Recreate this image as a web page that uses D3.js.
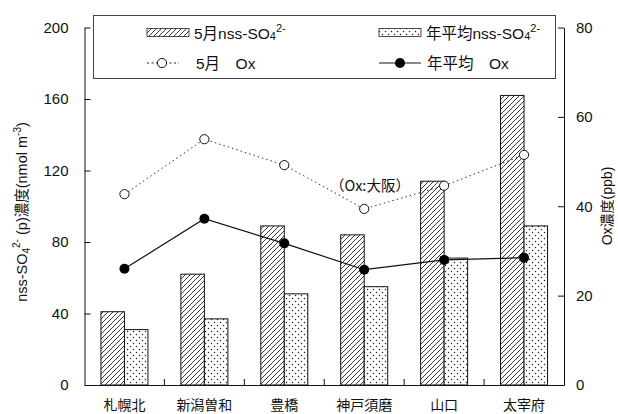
<!DOCTYPE html>
<html>
<head>
<meta charset="utf-8">
<script src="https://cdn.jsdelivr.net/npm/d3@7"></script>
<style>
  html, body { margin: 0; padding: 0; background: #fff; }
  svg { display: block; }
  text { font-family: "Liberation Sans", Arial, "Noto Sans CJK JP", sans-serif; fill: #111; }
</style>
</head>
<body>
<svg id="chart" width="618" height="414"></svg>
<script>
// Sites
const categories = ["札幌北", "新潟曽和", "豊橋", "神戸須磨", "山口", "太宰府"];
// nss-SO4 2- concentration (nmol m-3), left axis
const so4May = [41, 62, 89, 84, 114, 162];
const so4Annual = [31, 37, 51, 55, 71, 89];
// Ox concentration (ppb), right axis
const oxMay = [42.7, 55.0, 49.2, 39.4, 44.6, 51.5];
const oxAnnual = [26.0, 37.2, 31.7, 25.8, 28.0, 28.5];
// Axis ticks
const leftTicks = [0, 40, 80, 120, 160, 200];
const rightTicks = [0, 20, 40, 60, 80];

const svg = d3.select("#chart");
const plotLeft = 84.5, plotRight = 564, plotTop = 27.5, plotBottom = 385;

// Patterns for the bars
const defs = svg.append("defs");
const hatch = defs.append("pattern").attr("id", "hatch")
  .attr("patternUnits", "userSpaceOnUse").attr("width", 5).attr("height", 5);
hatch.append("path")
  .attr("d", "M0,5 L5,0 M-1,1 L1,-1 M4,6 L6,4")
  .attr("stroke", "#222").attr("stroke-width", 0.9);
const dots = defs.append("pattern").attr("id", "dots")
  .attr("patternUnits", "userSpaceOnUse").attr("width", 6).attr("height", 6);
dots.append("rect").attr("width", 6).attr("height", 6).attr("fill", "#fff");
dots.append("circle").attr("cx", 1.5).attr("cy", 1.5).attr("r", 0.75).attr("fill", "#222");
dots.append("circle").attr("cx", 4.5).attr("cy", 4.5).attr("r", 0.75).attr("fill", "#222");

// Scales
const x = d3.scaleBand().domain(categories).range([plotLeft, plotRight]).padding(0);
const x1 = d3.scaleBand().domain(["may", "annual"]).range([0, x.bandwidth()])
  .paddingInner(0).paddingOuter(0.7);
const yL = d3.scaleLinear().domain([0, 200]).range([plotBottom, plotTop]);
const yR = d3.scaleLinear().domain([0, 80]).range([plotBottom, plotTop]);

// Bars
const barSeries = [
  { key: "may", values: so4May, fill: "url(#hatch)" },
  { key: "annual", values: so4Annual, fill: "url(#dots)" }
];
barSeries.forEach(s => {
  svg.append("g").selectAll("rect").data(s.values).join("rect")
    .attr("x", (d, i) => x(categories[i]) + x1(s.key))
    .attr("y", d => yL(d))
    .attr("width", x1.bandwidth())
    .attr("height", d => yL(0) - yL(d))
    .attr("fill", s.fill)
    .attr("stroke", "#111").attr("stroke-width", 1);
});

// Axes
const axisFont = g => g.selectAll("text")
  .style("font-size", "15px").style("font-family", "'Liberation Sans', Arial, sans-serif").attr("fill", "#111");

const gL = svg.append("g").attr("transform", `translate(${plotLeft},0)`)
  .call(d3.axisLeft(yL).tickValues(leftTicks).tickSizeInner(-6).tickSizeOuter(0).tickPadding(16))
  .call(axisFont);
gL.selectAll("path, line").attr("stroke", "#111");

const gR = svg.append("g").attr("transform", `translate(${plotRight},0)`)
  .call(d3.axisRight(yR).tickValues(rightTicks).tickSizeInner(-6).tickSizeOuter(0).tickPadding(12))
  .call(axisFont);
gR.selectAll("path, line").attr("stroke", "#111");

const gB = svg.append("g").attr("transform", `translate(0,${plotBottom})`)
  .call(d3.axisBottom(x).tickSize(0).tickPadding(15));
gB.select(".domain").attr("stroke", "#111");
gB.selectAll("text").style("font-size", "14px")
  .style("font-family", "'Noto Sans CJK JP', sans-serif").attr("fill", "#111");
// Category boundary ticks pointing into the plot
gB.append("g").selectAll("line").data(categories.slice(1)).join("line")
  .attr("x1", d => x(d)).attr("x2", d => x(d))
  .attr("y1", 0).attr("y2", -6).attr("stroke", "#111");

// Ox lines
const lineGen = vals => d3.line()
  .x((d, i) => x(categories[i]) + x.bandwidth() / 2)
  .y(d => yR(d))(vals);

svg.append("path").attr("d", lineGen(oxMay))
  .attr("fill", "none").attr("stroke", "#333").attr("stroke-width", 1)
  .attr("stroke-dasharray", "1.5,3");
svg.append("g").selectAll("circle").data(oxMay).join("circle")
  .attr("cx", (d, i) => x(categories[i]) + x.bandwidth() / 2)
  .attr("cy", d => yR(d)).attr("r", 4.6)
  .attr("fill", "#fff").attr("stroke", "#111").attr("stroke-width", 1);

svg.append("path").attr("d", lineGen(oxAnnual))
  .attr("fill", "none").attr("stroke", "#111").attr("stroke-width", 1.2);
svg.append("g").selectAll("circle").data(oxAnnual).join("circle")
  .attr("cx", (d, i) => x(categories[i]) + x.bandwidth() / 2)
  .attr("cy", d => yR(d)).attr("r", 5)
  .attr("fill", "#000");

// Note on the Ox reference site
svg.append("text").attr("x", 370).attr("y", 191)
  .attr("text-anchor", "middle")
  .style("font-size", "14.5px").attr("fill", "#333")
  .style("font-family", "'Noto Sans CJK JP', sans-serif")
  .text("（Ox:大阪）");

// Axis titles
const yTitle = svg.append("text")
  .attr("transform", "translate(27,212) rotate(-90)")
  .attr("text-anchor", "middle")
  .style("font-size", "14.5px");
yTitle.append("tspan").text("nss-SO");
yTitle.append("tspan").attr("dy", 3).style("font-size", "10px").text("4");
yTitle.append("tspan").attr("dy", -10).style("font-size", "10px").text("2-");
yTitle.append("tspan").attr("dy", 7).text(" (p)濃度(nmol m");
yTitle.append("tspan").attr("dy", -6).style("font-size", "10px").text("-3");
yTitle.append("tspan").attr("dy", 6).text(")");

svg.append("text")
  .attr("transform", "translate(612,206) rotate(-90)")
  .attr("text-anchor", "middle")
  .style("font-size", "14px")
  .text("Ox濃度(ppb)");

// Legend
const lg = svg.append("g");
lg.append("rect").attr("x", 93.5).attr("y", 15.5).attr("width", 462).attr("height", 63)
  .attr("fill", "#fff").attr("stroke", "#444").attr("stroke-width", 1);

const legendBars = [
  { x: 147, fill: "url(#hatch)", label: "5月nss-SO" },
  { x: 379, fill: "url(#dots)", label: "年平均nss-SO" }
];
legendBars.forEach(d => {
  lg.append("rect").attr("x", d.x).attr("y", 28.5).attr("width", 42).attr("height", 8)
    .attr("fill", d.fill).attr("stroke", "#222").attr("stroke-width", 0.8);
  const t = lg.append("text").attr("x", d.x + 47).attr("y", 38.5).style("font-size", "15.5px");
  t.append("tspan").text(d.label);
  t.append("tspan").attr("dy", 1).style("font-size", "11px").text("4");
  t.append("tspan").attr("dy", -8).style("font-size", "11px").text("2-");
});

// Legend entries for the Ox lines
lg.append("line").attr("x1", 147).attr("x2", 179).attr("y1", 63).attr("y2", 63)
  .attr("stroke", "#222").attr("stroke-width", 1.1).attr("stroke-dasharray", "2,2.5");
lg.append("circle").attr("cx", 162).attr("cy", 63).attr("r", 4.6)
  .attr("fill", "#fff").attr("stroke", "#111");
lg.append("text").attr("x", 196).attr("y", 68.5).style("font-size", "15.5px").text("5月　Ox");

lg.append("line").attr("x1", 379).attr("x2", 421).attr("y1", 63).attr("y2", 63)
  .attr("stroke", "#111").attr("stroke-width", 1.2);
lg.append("circle").attr("cx", 400).attr("cy", 63).attr("r", 5).attr("fill", "#000");
lg.append("text").attr("x", 427).attr("y", 68.5).style("font-size", "15.5px").text("年平均　Ox");
</script>
</body>
</html>
